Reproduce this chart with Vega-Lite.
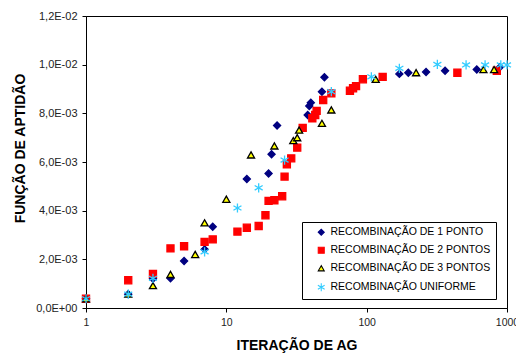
{
  "$schema": "https://vega.github.io/schema/vega-lite/v6.json",
  "width": 421,
  "height": 292,
  "autosize": {"type": "none"},
  "padding": {"left": 86, "top": 16, "right": 9, "bottom": 48},
  "background": "white",
  "config": {
    "font": "Liberation Sans",
    "view": {"stroke": "#000000", "strokeWidth": 1}
  },
  "data": {
    "values": [
      {"serie": "RECOMBINAÇÃO DE 1 PONTO", "iter": 1, "fitness": 0.00038},
      {"serie": "RECOMBINAÇÃO DE 1 PONTO", "iter": 2, "fitness": 0.00057},
      {"serie": "RECOMBINAÇÃO DE 1 PONTO", "iter": 3, "fitness": 0.0012},
      {"serie": "RECOMBINAÇÃO DE 1 PONTO", "iter": 4, "fitness": 0.00122},
      {"serie": "RECOMBINAÇÃO DE 1 PONTO", "iter": 5, "fitness": 0.00193},
      {"serie": "RECOMBINAÇÃO DE 1 PONTO", "iter": 7, "fitness": 0.00241},
      {"serie": "RECOMBINAÇÃO DE 1 PONTO", "iter": 8, "fitness": 0.00334},
      {"serie": "RECOMBINAÇÃO DE 1 PONTO", "iter": 14, "fitness": 0.0053},
      {"serie": "RECOMBINAÇÃO DE 1 PONTO", "iter": 20, "fitness": 0.00553},
      {"serie": "RECOMBINAÇÃO DE 1 PONTO", "iter": 21, "fitness": 0.00632},
      {"serie": "RECOMBINAÇÃO DE 1 PONTO", "iter": 23, "fitness": 0.0075},
      {"serie": "RECOMBINAÇÃO DE 1 PONTO", "iter": 38, "fitness": 0.00793},
      {"serie": "RECOMBINAÇÃO DE 1 PONTO", "iter": 39, "fitness": 0.0083},
      {"serie": "RECOMBINAÇÃO DE 1 PONTO", "iter": 40, "fitness": 0.00844},
      {"serie": "RECOMBINAÇÃO DE 1 PONTO", "iter": 48, "fitness": 0.00889},
      {"serie": "RECOMBINAÇÃO DE 1 PONTO", "iter": 50, "fitness": 0.00948},
      {"serie": "RECOMBINAÇÃO DE 1 PONTO", "iter": 171, "fitness": 0.00962},
      {"serie": "RECOMBINAÇÃO DE 1 PONTO", "iter": 198, "fitness": 0.00967},
      {"serie": "RECOMBINAÇÃO DE 1 PONTO", "iter": 265, "fitness": 0.0097},
      {"serie": "RECOMBINAÇÃO DE 1 PONTO", "iter": 362, "fitness": 0.00975},
      {"serie": "RECOMBINAÇÃO DE 1 PONTO", "iter": 609, "fitness": 0.0098},
      {"serie": "RECOMBINAÇÃO DE 1 PONTO", "iter": 891, "fitness": 0.0099},
      {"serie": "RECOMBINAÇÃO DE 2 PONTOS", "iter": 1, "fitness": 0.00038},
      {"serie": "RECOMBINAÇÃO DE 2 PONTOS", "iter": 2, "fitness": 0.00114},
      {"serie": "RECOMBINAÇÃO DE 2 PONTOS", "iter": 3, "fitness": 0.0014},
      {"serie": "RECOMBINAÇÃO DE 2 PONTOS", "iter": 4, "fitness": 0.00245},
      {"serie": "RECOMBINAÇÃO DE 2 PONTOS", "iter": 5, "fitness": 0.00254},
      {"serie": "RECOMBINAÇÃO DE 2 PONTOS", "iter": 7, "fitness": 0.00272},
      {"serie": "RECOMBINAÇÃO DE 2 PONTOS", "iter": 8, "fitness": 0.00282},
      {"serie": "RECOMBINAÇÃO DE 2 PONTOS", "iter": 12, "fitness": 0.00314},
      {"serie": "RECOMBINAÇÃO DE 2 PONTOS", "iter": 14, "fitness": 0.0033},
      {"serie": "RECOMBINAÇÃO DE 2 PONTOS", "iter": 17, "fitness": 0.00337},
      {"serie": "RECOMBINAÇÃO DE 2 PONTOS", "iter": 19, "fitness": 0.00381},
      {"serie": "RECOMBINAÇÃO DE 2 PONTOS", "iter": 20, "fitness": 0.0044},
      {"serie": "RECOMBINAÇÃO DE 2 PONTOS", "iter": 22, "fitness": 0.00443},
      {"serie": "RECOMBINAÇÃO DE 2 PONTOS", "iter": 25, "fitness": 0.00459},
      {"serie": "RECOMBINAÇÃO DE 2 PONTOS", "iter": 26, "fitness": 0.0054},
      {"serie": "RECOMBINAÇÃO DE 2 PONTOS", "iter": 27, "fitness": 0.0059},
      {"serie": "RECOMBINAÇÃO DE 2 PONTOS", "iter": 29, "fitness": 0.00615},
      {"serie": "RECOMBINAÇÃO DE 2 PONTOS", "iter": 32, "fitness": 0.00659},
      {"serie": "RECOMBINAÇÃO DE 2 PONTOS", "iter": 35, "fitness": 0.0074},
      {"serie": "RECOMBINAÇÃO DE 2 PONTOS", "iter": 41, "fitness": 0.0078},
      {"serie": "RECOMBINAÇÃO DE 2 PONTOS", "iter": 43, "fitness": 0.00793},
      {"serie": "RECOMBINAÇÃO DE 2 PONTOS", "iter": 44, "fitness": 0.0081},
      {"serie": "RECOMBINAÇÃO DE 2 PONTOS", "iter": 49, "fitness": 0.00855},
      {"serie": "RECOMBINAÇÃO DE 2 PONTOS", "iter": 56, "fitness": 0.00882},
      {"serie": "RECOMBINAÇÃO DE 2 PONTOS", "iter": 76, "fitness": 0.00893},
      {"serie": "RECOMBINAÇÃO DE 2 PONTOS", "iter": 80, "fitness": 0.00903},
      {"serie": "RECOMBINAÇÃO DE 2 PONTOS", "iter": 84, "fitness": 0.00912},
      {"serie": "RECOMBINAÇÃO DE 2 PONTOS", "iter": 94, "fitness": 0.0094},
      {"serie": "RECOMBINAÇÃO DE 2 PONTOS", "iter": 130, "fitness": 0.0095},
      {"serie": "RECOMBINAÇÃO DE 2 PONTOS", "iter": 443, "fitness": 0.00967},
      {"serie": "RECOMBINAÇÃO DE 2 PONTOS", "iter": 846, "fitness": 0.00975},
      {"serie": "RECOMBINAÇÃO DE 3 PONTOS", "iter": 1, "fitness": 0.00038},
      {"serie": "RECOMBINAÇÃO DE 3 PONTOS", "iter": 2, "fitness": 0.00057},
      {"serie": "RECOMBINAÇÃO DE 3 PONTOS", "iter": 3, "fitness": 0.00092},
      {"serie": "RECOMBINAÇÃO DE 3 PONTOS", "iter": 4, "fitness": 0.00138},
      {"serie": "RECOMBINAÇÃO DE 3 PONTOS", "iter": 6, "fitness": 0.0022},
      {"serie": "RECOMBINAÇÃO DE 3 PONTOS", "iter": 7, "fitness": 0.0035},
      {"serie": "RECOMBINAÇÃO DE 3 PONTOS", "iter": 10, "fitness": 0.00447},
      {"serie": "RECOMBINAÇÃO DE 3 PONTOS", "iter": 15, "fitness": 0.00629},
      {"serie": "RECOMBINAÇÃO DE 3 PONTOS", "iter": 22, "fitness": 0.00666},
      {"serie": "RECOMBINAÇÃO DE 3 PONTOS", "iter": 30, "fitness": 0.00688},
      {"serie": "RECOMBINAÇÃO DE 3 PONTOS", "iter": 32, "fitness": 0.007},
      {"serie": "RECOMBINAÇÃO DE 3 PONTOS", "iter": 33, "fitness": 0.00731},
      {"serie": "RECOMBINAÇÃO DE 3 PONTOS", "iter": 48, "fitness": 0.00759},
      {"serie": "RECOMBINAÇÃO DE 3 PONTOS", "iter": 56, "fitness": 0.00814},
      {"serie": "RECOMBINAÇÃO DE 3 PONTOS", "iter": 116, "fitness": 0.0094},
      {"serie": "RECOMBINAÇÃO DE 3 PONTOS", "iter": 225, "fitness": 0.00967},
      {"serie": "RECOMBINAÇÃO DE 3 PONTOS", "iter": 679, "fitness": 0.0098},
      {"serie": "RECOMBINAÇÃO DE 3 PONTOS", "iter": 809, "fitness": 0.0098},
      {"serie": "RECOMBINAÇÃO UNIFORME", "iter": 1, "fitness": 0.00038},
      {"serie": "RECOMBINAÇÃO UNIFORME", "iter": 2, "fitness": 0.00057},
      {"serie": "RECOMBINAÇÃO UNIFORME", "iter": 3, "fitness": 0.00122},
      {"serie": "RECOMBINAÇÃO UNIFORME", "iter": 7, "fitness": 0.00231},
      {"serie": "RECOMBINAÇÃO UNIFORME", "iter": 12, "fitness": 0.00411},
      {"serie": "RECOMBINAÇÃO UNIFORME", "iter": 17, "fitness": 0.00494},
      {"serie": "RECOMBINAÇÃO UNIFORME", "iter": 26, "fitness": 0.00608},
      {"serie": "RECOMBINAÇÃO UNIFORME", "iter": 56, "fitness": 0.00889},
      {"serie": "RECOMBINAÇÃO UNIFORME", "iter": 108, "fitness": 0.0095},
      {"serie": "RECOMBINAÇÃO UNIFORME", "iter": 171, "fitness": 0.00985},
      {"serie": "RECOMBINAÇÃO UNIFORME", "iter": 319, "fitness": 0.01001},
      {"serie": "RECOMBINAÇÃO UNIFORME", "iter": 511, "fitness": 0.00999},
      {"serie": "RECOMBINAÇÃO UNIFORME", "iter": 698, "fitness": 0.00999},
      {"serie": "RECOMBINAÇÃO UNIFORME", "iter": 903, "fitness": 0.00999},
      {"serie": "RECOMBINAÇÃO UNIFORME", "iter": 1000, "fitness": 0.00999}
    ]
  },
  "mark": {"type": "point", "filled": true, "strokeWidth": 1.3, "opacity": 1, "size": 50, "clip": false},
  "encoding": {
    "x": {
      "field": "iter",
      "type": "quantitative",
      "scale": {"type": "log", "domain": [1, 1000], "nice": false},
      "axis": {
        "title": "ITERAÇÃO DE AG",
        "values": [1, 10, 100, 1000],
        "format": "d",
        "grid": false,
        "domainColor": "#000000",
        "tickColor": "#000000",
        "tickSize": 4,
        "labelColor": "#222222",
        "labelFontSize": 10.5,
        "labelPadding": 5,
        "labelFlush": false,
        "labelOverlap": false,
        "titleFontSize": 14,
        "titleFontWeight": "bold",
        "titleColor": "#000000",
        "titlePadding": 11
      }
    },
    "y": {
      "field": "fitness",
      "type": "quantitative",
      "scale": {"domain": [0, 0.012], "nice": false, "zero": true},
      "axis": {
        "title": "FUNÇÃO DE APTIDÃO",
        "values": [0, 0.002, 0.004, 0.006, 0.008, 0.01, 0.012],
        "labelExpr": "replace(replace(replace(format(datum.value, '.1e'), '.', ','), 'e-', 'E-0'), 'e+', 'E+0')",
        "grid": false,
        "domainColor": "#000000",
        "tickColor": "#000000",
        "tickSize": 4,
        "labelColor": "#222222",
        "labelFontSize": 11,
        "labelPadding": 5,
        "labelFlush": false,
        "titleFontSize": 14,
        "titleFontWeight": "bold",
        "titleColor": "#000000",
        "titlePadding": 8,
        "titleY": 132
      }
    },
    "shape": {
      "field": "serie",
      "type": "nominal",
      "scale": {
        "domain": ["RECOMBINAÇÃO DE 1 PONTO", "RECOMBINAÇÃO DE 2 PONTOS", "RECOMBINAÇÃO DE 3 PONTOS", "RECOMBINAÇÃO UNIFORME"],
        "range": ["diamond", "square", "triangle-up", "M0,-1.3L0,1.3M-1.13,-0.65L1.13,0.65M-1.13,0.65L1.13,-0.65"]
      },
      "legend": {
        "title": null,
        "orient": "none",
        "legendX": 216,
        "legendY": 206,
        "strokeColor": "#000000",
        "fillColor": "#ffffff",
        "padding": 5,
        "symbolOffset": 9,
        "symbolSize": 36,
        "symbolStrokeWidth": 1.1,
        "labelFontSize": 10.5,
        "labelColor": "#000000",
        "labelOffset": 4,
        "rowPadding": 7,
        "labelLimit": 300
      }
    },
    "fill": {
      "field": "serie",
      "type": "nominal",
      "scale": {
        "domain": ["RECOMBINAÇÃO DE 1 PONTO", "RECOMBINAÇÃO DE 2 PONTOS", "RECOMBINAÇÃO DE 3 PONTOS", "RECOMBINAÇÃO UNIFORME"],
        "range": ["#000080", "#ff0000", "#ffff00", "#33ccff"]
      }
    },
    "stroke": {
      "field": "serie",
      "type": "nominal",
      "scale": {
        "domain": ["RECOMBINAÇÃO DE 1 PONTO", "RECOMBINAÇÃO DE 2 PONTOS", "RECOMBINAÇÃO DE 3 PONTOS", "RECOMBINAÇÃO UNIFORME"],
        "range": ["#000080", "#ff0000", "#000000", "#33ccff"]
      }
    }
  }
}
